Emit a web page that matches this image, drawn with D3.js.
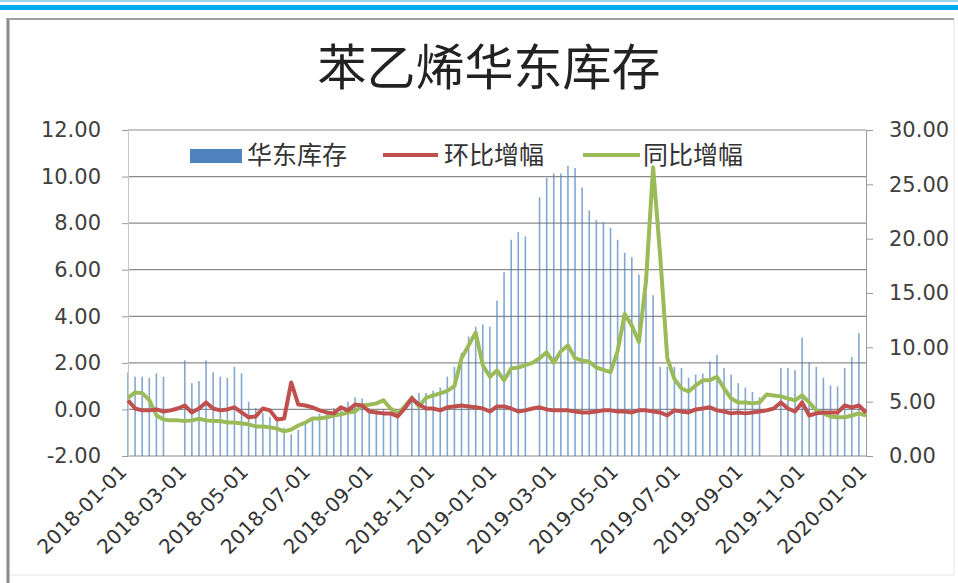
<!DOCTYPE html>
<html>
<head>
<meta charset="utf-8">
<script src="https://d3js.org/d3.v7.min.js"></script>
<style>
  body { margin: 0; background: #fff; }
  svg { display: block; }
  text { font-family: 'DejaVu Sans', sans-serif; }
  .cjk { font-family: 'Noto Sans CJK SC', sans-serif; }
</style>
</head>
<body>
<script>
// wrap everything so nothing leaks to global scope
;(() => {
  // weekly data, first week = 2018-01-01
  const startDate = new Date(2018, 0, 1)

  // 华东库存 (right axis), null = week not reported
  const stock = [
    7.7, 7.3, 7.3, 7.2, 7.6, 7.3, null, null, 8.8, 6.7,
    6.9, 8.8, 7.7, 7.3, 7.2, 8.2, 7.6, 5.0, 4.4, 4.0,
    3.6, 3.2, 2.6, 2.0, 2.4, 3.0, 3.6, 3.9, 4.2, 4.4,
    4.6, 5.0, 5.4, 5.3, 4.4, 4.2, 4.3, 4.0, 4.0, null,
    5.6, 5.8, 5.8, 6.0, 6.3, 7.3, 8.2, 9.5, 11.0, 11.9,
    12.1, 11.9, 14.3, 16.9, 19.9, 20.6, 20.2, null, 23.8, 25.6,
    26.0, 26.0, 26.7, 26.5, 24.7, 22.6, 21.7, 21.5, 21.0, 19.9,
    18.7, 18.3, 16.7, 15.0, 14.8, 8.2, 8.2, 8.2, 8.1, 7.2,
    7.5, 7.6, 8.7, 9.3, 8.1, 7.5, 6.7, 6.3, 5.9, 5.4,
    null, null, 8.1, 8.1, 7.9, 10.9, 8.6, 8.2, 7.2, 6.5,
    6.4, 8.1, 9.1, 11.3, null
  ]

  // 环比增幅 (left axis)
  const momChange = [
    0.39, 0.04, -0.04, -0.04, 0.00, -0.09, -0.04, 0.04, 0.17, -0.13,
    0.04, 0.30, 0.04, -0.04, 0.00, 0.09, -0.13, -0.34, -0.30, 0.04,
    -0.04, -0.43, -0.39, 1.16, 0.21, 0.17, 0.09, -0.04, -0.13, -0.17,
    0.09, -0.04, 0.21, 0.17, -0.09, -0.13, -0.17, -0.17, -0.30, 0.04,
    0.47, 0.21, 0.04, 0.04, -0.04, 0.09, 0.13, 0.17, 0.13, 0.09,
    0.04, -0.09, 0.13, 0.13, 0.04, -0.09, -0.04, 0.04, 0.09, 0.00,
    -0.04, -0.04, -0.04, -0.09, -0.13, -0.13, -0.09, -0.04, -0.04, -0.09,
    -0.09, -0.13, -0.04, -0.04, -0.09, -0.13, -0.26, -0.04, -0.09, -0.13,
    0.00, 0.04, 0.09, -0.04, -0.09, -0.17, -0.13, -0.17, -0.13, -0.09,
    -0.04, 0.04, 0.30, 0.04, -0.09, 0.30, -0.26, -0.17, -0.13, -0.13,
    -0.13, 0.17, 0.09, 0.17, -0.13
  ]

  // 同比增幅 (left axis)
  const yoyChange = [
    0.50, 0.73, 0.70, 0.40, -0.25, -0.43, -0.47, -0.47, -0.50, -0.47,
    -0.40, -0.47, -0.50, -0.50, -0.56, -0.56, -0.60, -0.64, -0.73, -0.73,
    -0.77, -0.82, -0.94, -0.86, -0.69, -0.56, -0.39, -0.39, -0.34, -0.26,
    -0.21, -0.13, -0.09, 0.17, 0.20, 0.26, 0.39, 0.04, -0.17, 0.13,
    0.50, 0.13, 0.50, 0.60, 0.69, 0.80, 1.00, 2.20, 2.75, 3.30,
    1.90, 1.40, 1.67, 1.25, 1.76, 1.80, 1.90, 2.00, 2.20, 2.45,
    2.00, 2.50, 2.75, 2.20, 2.10, 2.05, 1.80, 1.70, 1.60, 2.50,
    4.10, 3.60, 2.90, 5.50, 10.40, 6.60, 2.20, 1.30, 0.90, 0.77,
    1.03, 1.25, 1.25, 1.40, 0.90, 0.47, 0.30, 0.30, 0.26, 0.30,
    0.64, 0.60, 0.56, 0.47, 0.39, 0.60, 0.30, -0.04, -0.17, -0.30,
    -0.34, -0.34, -0.26, -0.17, -0.26
  ]

  const leftTicks = [-2, 0, 2, 4, 6, 8, 10, 12]
  const rightTicks = [0, 5, 10, 15, 20, 25, 30]
  const dateLabels = [
    '2018-01-01', '2018-03-01', '2018-05-01', '2018-07-01', '2018-09-01', '2018-11-01',
    '2019-01-01', '2019-03-01', '2019-05-01', '2019-07-01', '2019-09-01', '2019-11-01',
    '2020-01-01'
  ]
  const seriesNames = ['华东库存', '环比增幅', '同比增幅']
  const colors = { bar: '#4f81bd', mom: '#c0504d', yoy: '#9bbb59' }

  const width = 958,
    height = 583
  const plot = { left: 128, right: 868, top: 130, bottom: 456 }

  const svg = d3.select('body').append('svg').attr('width', width).attr('height', height)

  // blue header stripes above the chart box
  svg.append('rect').attr('x', 0).attr('y', 0).attr('width', width).attr('height', 2).attr('fill', '#9dd3ee')
  svg.append('rect').attr('x', 0).attr('y', 5).attr('width', width).attr('height', 5).attr('fill', '#00aeef')

  // chart frame
  svg.append('rect')
    .attr('x', 8).attr('y', 19)
    .attr('width', 946).attr('height', 556)
    .attr('fill', '#fff')
    .attr('stroke', '#e4e4e4')
  svg.append('line').attr('x1', 8).attr('x2', 8).attr('y1', 18).attr('y2', height)
    .attr('stroke', '#8a8a8a').attr('stroke-width', 3)
  svg.append('line').attr('x1', 8).attr('x2', 954).attr('y1', 19).attr('y2', 19)
    .attr('stroke', '#a0a0a0').attr('stroke-width', 2)

  // scales
  const x = d3.scaleTime()
    .domain([startDate, new Date(2020, 0, 1)])
    .range([plot.left, plot.right])
  const yLeft = d3.scaleLinear().domain([-2, 12]).range([plot.bottom, plot.top])
  const yRight = d3.scaleLinear().domain([0, 30]).range([plot.bottom, plot.top])

  const weekDate = i => d3.timeDay.offset(startDate, 7 * i)
  const fmt = d => d.toFixed(2) // plain hyphen for negatives, like the original

  // horizontal gridlines
  svg.append('g')
    .selectAll('line')
    .data(leftTicks)
    .join('line')
    .attr('x1', plot.left).attr('x2', plot.right - 2)
    .attr('y1', d => yLeft(d)).attr('y2', d => yLeft(d))
    .attr('stroke', '#8c8c8c')
    .attr('stroke-width', 1.2)

  // bars (thin columns from the right-axis zero)
  svg.append('g')
    .selectAll('rect')
    .data(stock.map((v, i) => ({ v, d: weekDate(i) })).filter(e => e.v != null))
    .join('rect')
    .attr('x', e => x(e.d) - 0.8)
    .attr('width', 1.6)
    .attr('y', e => yRight(e.v))
    .attr('height', e => yRight(0) - yRight(e.v))
    .attr('fill', colors.bar)
    .attr('opacity', 0.7)

  // left axis
  const leftAxis = svg.append('g')
    .attr('transform', `translate(${plot.left},0)`)
    .call(d3.axisLeft(yLeft).tickValues(leftTicks).tickSize(6).tickPadding(21).tickFormat(fmt))
  leftAxis.select('.domain').attr('stroke', '#c8c8c8')
  leftAxis.selectAll('.tick line').attr('stroke', '#9a9a9a')
  leftAxis.selectAll('text').attr('font-size', 21).attr('fill', '#404040')
    .attr('font-family', 'DejaVu Sans')

  // right axis
  const rightAxis = svg.append('g')
    .attr('transform', `translate(${plot.right - 2},0)`)
    .call(d3.axisRight(yRight).tickValues(rightTicks).tickSize(7).tickPadding(16).tickFormat(fmt))
  rightAxis.select('.domain').attr('stroke', '#9a9a9a')
  rightAxis.selectAll('.tick line').attr('stroke', '#9a9a9a')
  rightAxis.selectAll('text').attr('font-size', 21).attr('fill', '#404040')
    .attr('font-family', 'DejaVu Sans')

  // lines
  const line = d3.line()
    .x((v, i) => x(weekDate(i)))
    .y(v => yLeft(v))

  svg.append('path')
    .datum(yoyChange)
    .attr('d', line)
    .attr('fill', 'none')
    .attr('stroke', colors.yoy)
    .attr('stroke-width', 4)
    .attr('stroke-linejoin', 'round')

  svg.append('path')
    .datum(momChange)
    .attr('d', line)
    .attr('fill', 'none')
    .attr('stroke', colors.mom)
    .attr('stroke-width', 4)
    .attr('stroke-linejoin', 'round')

  // date labels, rotated
  const parseDate = d3.timeParse('%Y-%m-%d')
  svg.append('g')
    .selectAll('text')
    .data(dateLabels)
    .join('text')
    .attr('transform', d => `translate(${x(parseDate(d)) - 5},${plot.bottom + 12}) rotate(-45)`)
    .attr('text-anchor', 'end')
    .attr('dy', '0.35em')
    .attr('font-size', 20)
    .attr('fill', '#333')
    .text(d => d)

  // title
  svg.append('text')
    .attr('class', 'cjk')
    .attr('x', 489)
    .attr('y', 85)
    .attr('text-anchor', 'middle')
    .attr('font-size', 49)
    .attr('fill', '#222')
    .text('苯乙烯华东库存')

  // legend
  const legend = svg.append('g').attr('class', 'legend')
  legend.append('rect')
    .attr('x', 190).attr('y', 149).attr('width', 52).attr('height', 14)
    .attr('fill', colors.bar)
  legend.append('line')
    .attr('x1', 383).attr('x2', 438).attr('y1', 155).attr('y2', 155)
    .attr('stroke', colors.mom).attr('stroke-width', 4)
  legend.append('line')
    .attr('x1', 583).attr('x2', 640).attr('y1', 155).attr('y2', 155)
    .attr('stroke', colors.yoy).attr('stroke-width', 4)
  legend.selectAll('text.lab')
    .data(seriesNames)
    .join('text')
    .attr('class', 'cjk lab')
    .attr('x', (d, i) => [247, 444, 643][i])
    .attr('y', 164)
    .attr('font-size', 25)
    .attr('fill', '#333')
    .text(d => d)
})()
</script>
</body>
</html>
